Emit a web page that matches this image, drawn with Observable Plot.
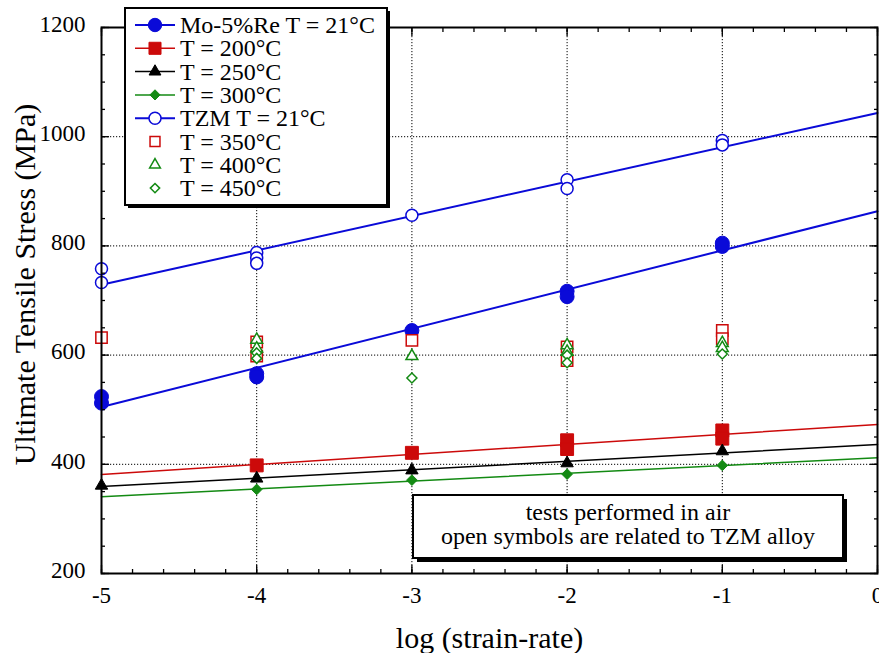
<!DOCTYPE html>
<html><head><meta charset="utf-8">
<script src="https://cdn.jsdelivr.net/npm/d3@7"></script>
<script src="https://cdn.jsdelivr.net/npm/@observablehq/plot@0.6"></script>
<style>
html,body{margin:0;padding:0;background:#fff;overflow:hidden;}
#wrap{position:relative;width:879px;height:653px;font-family:"Liberation Serif","Times New Roman",serif;}
#wrap svg.plot{display:block;}
#overlay{position:absolute;left:0;top:0;pointer-events:none;}
</style>
</head><body>
<div id="wrap"></div>
<script>
// ---------- data ----------
const xDomain = [-5, 0];
const yDomain = [200, 1200];
const xLabelTicks = [-5, -4, -3, -2, -1, 0];
const yLabelTicks = [200, 400, 600, 800, 1000, 1200];
const xGridTicks = [-4, -3, -2, -1];
const yGridTicks = [400, 600, 800, 1000];

// Mo-5%Re (filled symbols)
const mo21X  = [-5, -5, -4, -4, -3, -2, -2, -1, -1];
const mo21Y  = [524, 512, 566, 560, 645, 717, 707, 805, 799];
const mo200X = [-4, -3, -2, -2, -1, -1];
const mo200Y = [398, 421, 444, 428, 462, 447];
const mo250X = [-5, -4, -3, -2, -1];
const mo250Y = [361, 374, 389, 402, 424];
const mo300X = [-4, -3, -2, -1];
const mo300Y = [354, 371, 382, 398];
// TZM (open symbols)
const tzm21X  = [-5, -5, -4, -4, -4, -3, -2, -2, -1, -1];
const tzm21Y  = [758, 733, 788, 778, 768, 856, 921, 905, 993, 985];
const tzm350X = [-5, -4, -4, -3, -2, -2, -1, -1];
const tzm350Y = [632, 624, 598, 627, 615, 590, 645, 630];
const tzm400X = [-4, -4, -3, -2, -2, -1, -1];
const tzm400Y = [628, 612, 598, 618, 606, 622, 613];
const tzm450X = [-4, -4, -3, -2, -2, -1];
const tzm450Y = [604, 594, 558, 600, 586, 602];

const legendLabels = ["Mo-5%Re T = 21°C", "T = 200°C", "T = 250°C", "T = 300°C",
                      "TZM T = 21°C", "T = 350°C", "T = 400°C", "T = 450°C"];
const noteLines = ["tests performed in air", "open symbols are related to TZM alloy"];
const xTitle = "log (strain-rate)";
const yTitle = "Ultimate Tensile Stress (MPa)";

// ---------- styles ----------
const BLUE = "#0a0ad8", RED = "#cc0a0a", BLACK = "#000", GREEN = "#138a13";
const series = [
  {x: mo21X,  y: mo21Y,  color: BLUE,  symbol: "circle",   filled: true,  r: 7,   fit: true,  lw: 2,   lr: 6.7},
  {x: mo200X, y: mo200Y, color: RED,   symbol: "square",   filled: true,  r: 7.3, fit: true,  lw: 1.5, lr: 6.8},
  {x: mo250X, y: mo250Y, color: BLACK, symbol: "triangle", filled: true,  r: 4.6, fit: true,  lw: 1.5, lr: 4.4},
  {x: mo300X, y: mo300Y, color: GREEN, symbol: "diamond2", filled: true,  r: 4.8, fit: true,  lw: 1.5, lr: 4.6},
  {x: tzm21X, y: tzm21Y, color: BLUE,  symbol: "circle",   filled: false, r: 6,   fit: true,  lw: 2,   lr: 6},
  {x: tzm350X,y: tzm350Y,color: RED,   symbol: "square",   filled: false, r: 6.4, fit: false, lw: 0,   lr: 5.6},
  {x: tzm400X,y: tzm400Y,color: GREEN, symbol: "triangle", filled: false, r: 4.4, fit: false, lw: 0,   lr: 4},
  {x: tzm450X,y: tzm450Y,color: GREEN, symbol: "diamond2", filled: false, r: 4.5, fit: false, lw: 0,   lr: 4.2}
];

function fitLine(xs, ys) {
  const mx = d3.mean(xs), my = d3.mean(ys);
  const b = d3.sum(xs, (x, i) => (x - mx) * (ys[i] - my)) / d3.sum(xs, x => (x - mx) ** 2);
  const a = my - b * mx;
  return xDomain.map(x => ({x, y: a + b * x}));
}

const xMinor = d3.range(-5, 0.0001, 0.2);
const yMinor = d3.range(200, 1200.1, 50);
const plain = d => `${d}`;

const marks = [
  Plot.gridX({ticks: xGridTicks, stroke: "black", strokeOpacity: 1, strokeWidth: 1, strokeDasharray: "1.2,1.8"}),
  Plot.gridY({ticks: yGridTicks, stroke: "black", strokeOpacity: 1, strokeWidth: 1, strokeDasharray: "1.2,1.8"})
];
for (const s of series) {
  if (s.fit) marks.push(Plot.line(fitLine(s.x, s.y), {x: "x", y: "y", stroke: s.color, strokeWidth: s.lw}));
}
for (const s of series) {
  const pts = s.x.map((x, i) => ({x, y: s.y[i]}));
  marks.push(Plot.dot(pts, {x: "x", y: "y", symbol: s.symbol, r: s.r,
    fill: s.filled ? s.color : "white", stroke: s.color, strokeWidth: s.filled ? 1 : 1.5}));
}
const tickOpts = {stroke: "black", fill: "none", label: null, strokeWidth: 1.3};
marks.push(
  Plot.axisX({...tickOpts, ticks: xLabelTicks, tickSize: -8}),
  Plot.axisX({...tickOpts, ticks: xMinor, tickSize: -4}),
  Plot.axisX({...tickOpts, anchor: "top", ticks: xLabelTicks, tickSize: -8}),
  Plot.axisX({...tickOpts, anchor: "top", ticks: xMinor, tickSize: -4}),
  Plot.axisY({...tickOpts, ticks: yLabelTicks, tickSize: -8}),
  Plot.axisY({...tickOpts, ticks: yMinor, tickSize: -4}),
  Plot.axisY({...tickOpts, anchor: "right", ticks: yLabelTicks, tickSize: -8}),
  Plot.axisY({...tickOpts, anchor: "right", ticks: yMinor, tickSize: -4}),
  Plot.axisX({ticks: xLabelTicks, tickFormat: plain, tickSize: 0, tickPadding: 22, lineAnchor: "middle", label: null, fontSize: 23, fill: "black"}),
  Plot.axisY({ticks: yLabelTicks, tickFormat: plain, tickSize: 0, tickPadding: 16, dy: -3, label: null, fontSize: 23, fill: "black"}),
  Plot.frame({stroke: "black", strokeWidth: 2}),
  Plot.text([xTitle], {frameAnchor: "bottom", dy: 65, fontSize: 30, lineAnchor: "middle", fill: "black"}),
  Plot.text([yTitle], {frameAnchor: "left", dx: -76, dy: -16, rotate: -90, fontSize: 30, textAnchor: "middle", lineAnchor: "middle", fill: "black"})
);

const chart = Plot.plot({
  width: 879, height: 653,
  marginLeft: 101, marginRight: 2, marginTop: 27, marginBottom: 80,
  x: {domain: xDomain},
  y: {domain: yDomain},
  style: {fontFamily: '"Liberation Serif","Times New Roman",serif', fontSize: "23px", color: "black", background: "white"},
  marks
});
const wrap = document.getElementById("wrap");
wrap.appendChild(chart);

// ---------- legend & note overlay ----------
const ov = d3.select(wrap).append("svg").attr("id", "overlay").attr("width", 879).attr("height", 653)
  .style("font-family", '"Liberation Serif","Times New Roman",serif');

// legend box
const L = {x: 125, y: 8, w: 262, h: 197};
ov.append("rect").attr("x", L.x + 3).attr("y", L.y + 3).attr("width", L.w).attr("height", L.h).attr("fill", "black");
ov.append("rect").attr("x", L.x).attr("y", L.y).attr("width", L.w).attr("height", L.h)
  .attr("fill", "white").attr("stroke", "black").attr("stroke-width", 2);
const symMap = {circle: d3.symbolCircle, square: d3.symbolSquare, triangle: d3.symbolTriangle, diamond2: d3.symbolDiamond2};
series.forEach((s, i) => {
  const cy = 25 + i * 23.3;
  const g = ov.append("g");
  if (s.fit) g.append("line").attr("x1", 135).attr("x2", 175).attr("y1", cy).attr("y2", cy)
    .attr("stroke", s.color).attr("stroke-width", s.lw);
  g.append("path").attr("transform", `translate(155,${cy})`)
    .attr("d", d3.symbol(symMap[s.symbol], Math.PI * s.lr * s.lr)())
    .attr("fill", s.filled ? s.color : "white").attr("stroke", s.color).attr("stroke-width", s.filled ? 1 : 1.5);
  g.append("text").attr("x", 180).attr("y", cy + 8).attr("font-size", 24).attr("fill", "black").text(legendLabels[i]);
});

// note box
const N = {x: 413, y: 495, w: 430, h: 63};
ov.append("rect").attr("x", N.x + 4).attr("y", N.y + 4).attr("width", N.w).attr("height", N.h).attr("fill", "black");
ov.append("rect").attr("x", N.x).attr("y", N.y).attr("width", N.w).attr("height", N.h)
  .attr("fill", "white").attr("stroke", "black").attr("stroke-width", 2);
noteLines.forEach((t, i) => {
  ov.append("text").attr("x", N.x + N.w / 2).attr("y", 519.5 + i * 24).attr("text-anchor", "middle")
    .attr("font-size", 24).attr("fill", "black").text(t);
});
</script>
</body></html>
